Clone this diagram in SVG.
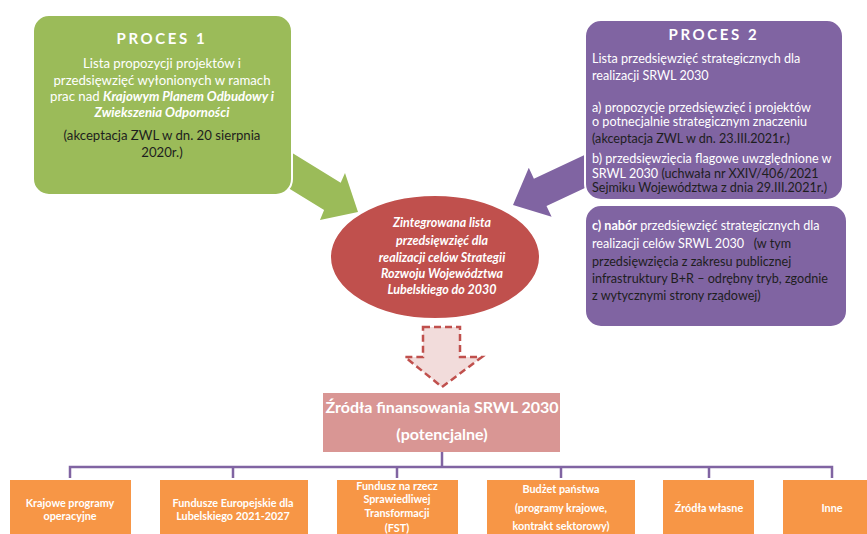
<svg xmlns="http://www.w3.org/2000/svg" width="867" height="534" viewBox="0 0 867 534">
<style>
.t{font-family:Lato,"Open Sans","DejaVu Sans",sans-serif;}
.w{fill:#FFFFFF;}
.d{fill:#1E1E1E;}
.b{font-weight:bold;}
.bi{font-weight:bold;font-style:italic;}
.hd{font-size:15px;font-weight:bold;letter-spacing:2.6px;fill:#FFFFFF;}
.p{font-size:12.6px;}
.g{font-size:13.2px;}
.o{font-size:10.8px;font-weight:bold;fill:#FFFFFF;text-anchor:middle;}
.conn{stroke:#8064A2;stroke-width:2.5;fill:none;}
.org{fill:#F79646;}
</style>
<rect width="867" height="534" fill="#FFFFFF"/>
<g id="arrow-green">
<polygon points="255.3,130.3 340.7,182.7 345,173 358,212 320,220 324.1,210.1 238.7,157.7" fill="#9BBB59"/>
</g>
<g id="arrow-purple">
<polygon points="597.3,149.1 533.9,178.7 528.8,167.8 513,205 551.6,216.8 546.5,205.9 610,176.3" fill="#8064A2"/>
</g>
<g id="proces1">
<rect x="33" y="15" width="259" height="180" rx="16" fill="#9BBB59" stroke="#FFFFFF" stroke-width="2"/>
<text class="t hd" x="162" y="44" text-anchor="middle">PROCES 1</text>
<text class="t g w" x="162" y="68" text-anchor="middle">Lista propozycji projektów i</text>
<text class="t g w" x="162" y="85" text-anchor="middle">przedsięwzięć wyłonionych w ramach</text>
<text class="t g w" x="162" y="101" text-anchor="middle">prac nad <tspan class="bi">Krajowym Planem Odbudowy i</tspan></text>
<text class="t g w bi" x="162" y="117" text-anchor="middle">Zwiekszenia Odporności</text>
<text class="t g d" x="162" y="140" text-anchor="middle">(akceptacja ZWL w dn. 20 sierpnia</text>
<text class="t g d" x="162" y="157" text-anchor="middle">2020r.)</text>
</g>
<g id="proces2">
<rect x="585" y="20" width="258" height="180" rx="16" fill="#8064A2" stroke="#FFFFFF" stroke-width="2"/>
<text class="t hd" x="714" y="40" text-anchor="middle">PROCES 2</text>
<text class="t p w" x="592" y="63">Lista przedsięwzięć strategicznych dla</text>
<text class="t p w" x="592" y="80">realizacji SRWL 2030</text>
<text class="t p w" x="592" y="112">a) propozycje przedsięwzięć i projektów</text>
<text class="t p w" x="592" y="126">o potnecjalnie strategicznym znaczeniu</text>
<text class="t p d" x="592" y="143">(akceptacja ZWL w dn. 23.III.2021r.)</text>
<text class="t p w" x="592" y="163">b) przedsięwzięcia flagowe uwzględnione w</text>
<text class="t p w" x="592" y="178">SRWL 2030 <tspan class="d">(uchwała nr XXIV/406/2021</tspan></text>
<text class="t p d" x="592" y="192">Sejmiku Województwa z dnia 29.III.2021r.)</text>
</g>
<g id="proces2c">
<rect x="585" y="205" width="262" height="122" rx="16" fill="#8064A2" stroke="#FFFFFF" stroke-width="2"/>
<text class="t p w" x="592" y="230"><tspan class="b">c) nabór</tspan> przedsięwzięć strategicznych dla</text>
<text class="t p w" x="592" y="248">realizacji celów SRWL 2030 <tspan class="d" xml:space="preserve">  (w tym</tspan></text>
<text class="t p d" x="592" y="266">przedsięwzięcia z zakresu publicznej</text>
<text class="t p d" x="592" y="283">infrastruktury B+R – odrębny tryb, zgodnie</text>
<text class="t p d" x="592" y="300">z wytycznymi strony rządowej)</text>
</g>
<g id="lista">
<ellipse cx="435" cy="257" rx="105" ry="62" fill="#C0504D" stroke="#FFFFFF" stroke-width="2"/>
<text class="t w bi" font-size="12.5" x="442" y="227" text-anchor="middle">Zintegrowana lista</text>
<text class="t w bi" font-size="12.5" x="442" y="245" text-anchor="middle">przedsięwzięć dla</text>
<text class="t w bi" font-size="12.5" x="442" y="262" text-anchor="middle">realizacji celów Strategii</text>
<text class="t w bi" font-size="12.5" x="442" y="278" text-anchor="middle">Rozwoju Województwa</text>
<text class="t w bi" font-size="12.5" x="442" y="294" text-anchor="middle">Lubelskiego do 2030</text>
</g>
<g id="arrow-down">
<polygon points="423,327 460,327 460,357 482,357 442,387 405,357 423,357" fill="#F2DCDB" stroke="#C0504D" stroke-width="2.5" stroke-dasharray="7,4"/>
</g>
<g id="zrodla">
<rect x="323" y="393" width="237" height="59" fill="#D99694"/>
<text class="t w b" font-size="16" x="442" y="413" text-anchor="middle">Źródła finansowania SRWL 2030</text>
<text class="t w b" font-size="16" x="442" y="440" text-anchor="middle">(potencjalne)</text>
</g>
<g id="connectors">
<path class="conn" d="M442,452 V467 M70,478 V467 H832 V478 M233,467 V478 M397,467 V478 M561,467 V478 M709,467 V478"/>
</g>
<g id="src1">
<rect class="org" x="10" y="480" width="121" height="60"/>
<text class="t o" x="70" y="507">Krajowe programy</text>
<text class="t o" x="70" y="520">operacyjne</text>
</g>
<g id="src2">
<rect class="org" x="160" y="480" width="148" height="60"/>
<text class="t o" x="233" y="507">Fundusze Europejskie dla</text>
<text class="t o" x="233" y="520">Lubelskiego 2021-2027</text>
</g>
<g id="src3">
<rect class="org" x="337" y="480" width="121" height="60"/>
<text class="t o" x="397" y="490">Fundusz na rzecz</text>
<text class="t o" x="397" y="503">Sprawiedliwej</text>
<text class="t o" x="397" y="517">Transformacji</text>
<text class="t o" x="397" y="532">(FST)</text>
</g>
<g id="src4">
<rect class="org" x="487" y="480" width="148" height="60"/>
<text class="t o" x="561" y="493">Budżet państwa</text>
<text class="t o" x="561" y="512">(programy krajowe,</text>
<text class="t o" x="561" y="530">kontrakt sektorowy)</text>
</g>
<g id="src5">
<rect class="org" x="663" y="480" width="91" height="60"/>
<text class="t o" x="709" y="512">Źródła własne</text>
</g>
<g id="src6">
<rect class="org" x="783" y="480" width="84" height="60"/>
<text class="t o" x="832" y="512">Inne</text>
</g>
</svg>
